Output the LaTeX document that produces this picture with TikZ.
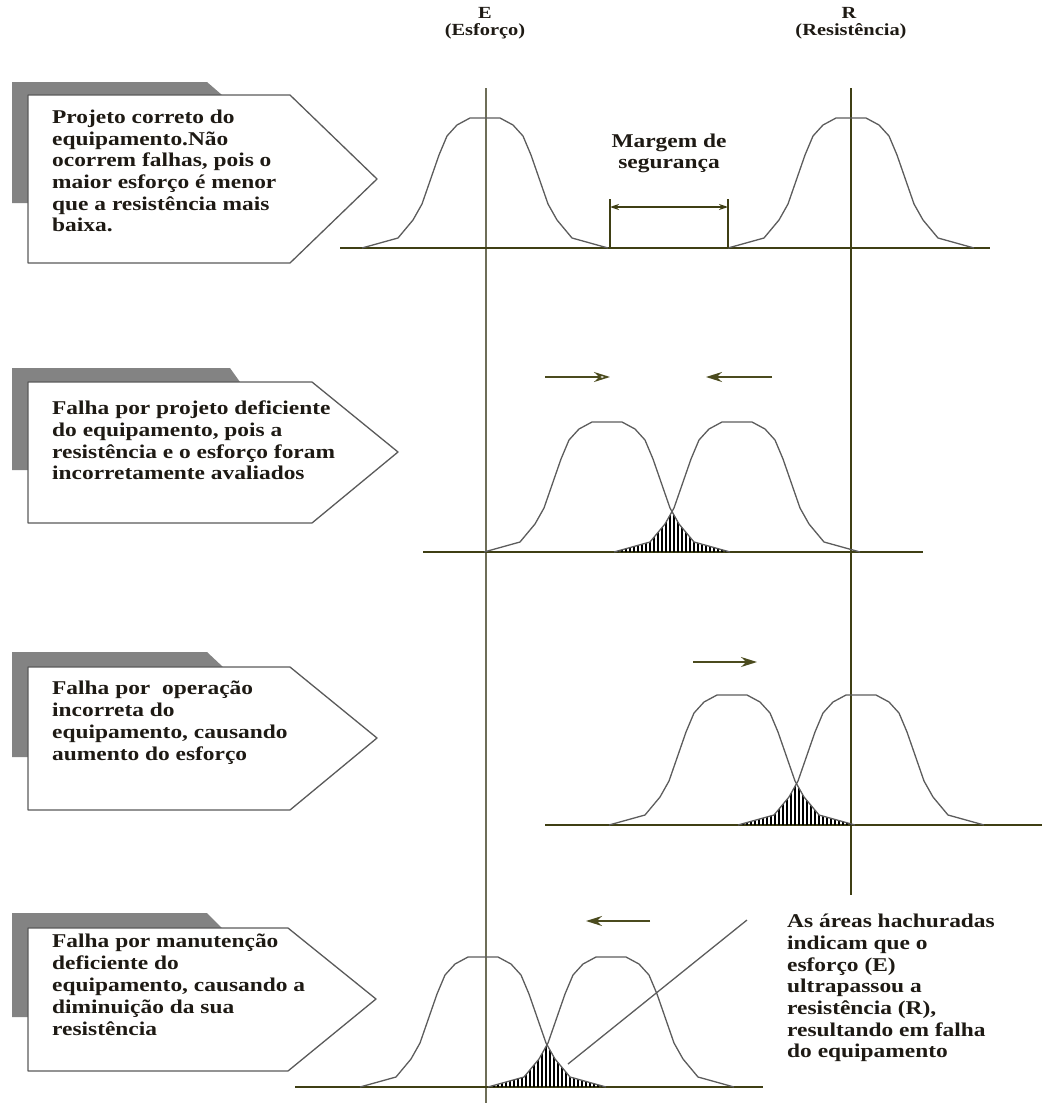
\documentclass[tikz,border=0pt]{standalone}
\usepackage{fontspec}
\newfontfamily\lblfont{Liberation Serif}[FakeStretch=1.2]
\usetikzlibrary{arrows.meta}

\definecolor{axisc}{HTML}{3F3F14}
\definecolor{eline}{HTML}{6E6E58}
\definecolor{curvec}{HTML}{5C5C5C}
\definecolor{shadec}{HTML}{838383}
\definecolor{boxc}{HTML}{5A5A5A}
\definecolor{arrowc}{HTML}{4B4B1E}
\definecolor{txtc}{HTML}{1E1A14}

\tikzset{
  % polyline of one distribution curve, centred on (0,0) = foot of the mode on the baseline
  bellpath/.style={insert path={(-123,0) -- (-87,-10) -- (-72,-28) -- (-63,-44) -- (-46,-93)
     -- (-38,-112) -- (-28,-123) -- (-15,-130) -- (15,-130) -- (28,-123) -- (38,-112)
     -- (46,-93) -- (63,-44) -- (72,-28) -- (87,-10) -- (123,0)}},
  curve/.style={draw=curvec, line width=1.3pt, line join=round},
  baseline/.style={draw=axisc, line width=1.4pt},
  refline/.style={line width=1.3pt},
  hatch/.style={draw=black, line width=1.2pt},
  shadow/.style={fill=shadec},
  pentabox/.style={fill=white, draw=boxc, line width=1.3pt, line join=round},
  boxtext/.style={anchor=north west, inner sep=0pt, align=left, text=txtc,
     font=\lblfont\bfseries\fontsize{19.5}{21.6}\selectfont},
  headtext/.style={inner sep=0pt, align=center, text=txtc,
     font=\lblfont\bfseries\fontsize{17}{20}\selectfont},
  move/.style={draw=arrowc, line width=1.6pt, -{Stealth[length=16pt,width=10pt]}},
  moveopen/.style={draw=arrowc, line width=1.6pt, -{Stealth[open,length=16pt,width=10pt]}},
  dim/.style={draw=axisc, line width=1.3pt},
}

\begin{document}
\begin{tikzpicture}[x=1pt,y=-1pt]
\useasboundingbox (0,0) rectangle (1042,1103);

% ---------- column headings and reference lines ----------
\node[headtext] (hE) at (485,13) {E};
\node[headtext] (hEs) at (485,31) {(Esforço)};
\node[headtext] (hR) at (849,13) {R};
\node[headtext] (hRs) at (851,31) {(Resistência)};

\coordinate (Etop) at (486,88);  \coordinate (Ebot) at (486,1103);
\coordinate (Rtop) at (851,88);  \coordinate (Rbot) at (851,895);
\draw[refline, draw=eline] (Etop) -- (Ebot);
\draw[refline, draw=axisc] (Rtop) -- (Rbot);

% ---------- row 1: correct design ----------
\fill[shadow] (12,82) -- (207,82) -- (222,95) -- (222,203) -- (12,203) -- cycle;
\draw[pentabox] (28,95) -- (290,95) -- (377,179) -- (290,263) -- (28,263) -- cycle;
\node[boxtext] (t1) at (52,110) {Projeto correto do\\equipamento.Não\\ocorrem falhas, pois o\\maior esforço é menor\\que a resistência mais\\baixa.};

\coordinate (b1l) at (340,248); \coordinate (b1r) at (990,248);
\draw[baseline] (b1l) -- (b1r);
\draw[curve, shift={(485,248)}, bellpath];
\draw[curve, shift={(851,248)}, bellpath];

\coordinate (mLb) at (610,248); \coordinate (mLt) at (610,199);
\coordinate (mRb) at (728,248); \coordinate (mRt) at (728,199);
\coordinate (mL) at (610,207);  \coordinate (mR) at (728,207);
\draw[dim] (mLb) -- (mLt);
\draw[dim] (mRb) -- (mRt);
\draw[dim, {Stealth[length=9pt,width=6pt]}-{Stealth[length=9pt,width=6pt]}] (mL) -- (mR);
\node[headtext, font=\lblfont\bfseries\fontsize{19.5}{21}\selectfont] (mg) at (669,153) {Margem de\\segurança};

% ---------- row 2: deficient design ----------
\fill[shadow] (12,368) -- (230,368) -- (240,382) -- (240,470) -- (12,470) -- cycle;
\draw[pentabox] (28,382) -- (312,382) -- (398,452) -- (312,523) -- (28,523) -- cycle;
\node[boxtext] (t2) at (52,401) {Falha por projeto deficiente\\do equipamento, pois a\\resistência e o esforço foram\\incorretamente avaliados};

\coordinate (a2s) at (545,377); \coordinate (a2e) at (610,377);
\coordinate (a3s) at (772,377); \coordinate (a3e) at (706,377);
\draw[moveopen] (a2s) -- (a2e);
\draw[move] (a3s) -- (a3e);

\coordinate (b2l) at (423,552); \coordinate (b2r) at (923,552);
\draw[baseline] (b2l) -- (b2r);
\begin{scope}
  \clip[shift={(607,552)}, bellpath] -- cycle;
  \clip[shift={(737,552)}, bellpath] -- cycle;
  \foreach \x in {598,602,...,746} \draw[hatch] (\x,553) -- (\x,500);
\end{scope}
\draw[curve, shift={(607,552)}, bellpath];
\draw[curve, shift={(737,552)}, bellpath];

% ---------- row 3: incorrect operation ----------
\fill[shadow] (12,652) -- (207,652) -- (223,667) -- (223,757) -- (12,757) -- cycle;
\draw[pentabox] (28,667) -- (290,667) -- (377,738) -- (290,810) -- (28,810) -- cycle;
\node[boxtext, font=\lblfont\bfseries\fontsize{19.5}{22}\selectfont] (t3) at (52,681) {Falha por~ operação\\incorreta do\\equipamento, causando\\aumento do esforço};

\coordinate (a4s) at (693,662); \coordinate (a4e) at (757,662);
\draw[move] (a4s) -- (a4e);

\coordinate (b3l) at (545,825); \coordinate (b3r) at (1042,825);
\draw[baseline] (b3l) -- (b3r);
\begin{scope}
  \clip[shift={(732,825)}, bellpath] -- cycle;
  \clip[shift={(861,825)}, bellpath] -- cycle;
  \foreach \x in {723,727,...,870} \draw[hatch] (\x,826) -- (\x,770);
\end{scope}
\draw[curve, shift={(732,825)}, bellpath];
\draw[curve, shift={(861,825)}, bellpath];

% ---------- row 4: deficient maintenance ----------
\fill[shadow] (12,913) -- (207,913) -- (222,928) -- (222,1017) -- (12,1017) -- cycle;
\draw[pentabox] (28,928) -- (288,928) -- (376,999) -- (288,1071) -- (28,1071) -- cycle;
\node[boxtext, font=\lblfont\bfseries\fontsize{19.5}{22}\selectfont] (t4) at (52,934) {Falha por manutenção\\deficiente do\\equipamento, causando a\\diminuição da sua\\resistência};

\coordinate (a5s) at (650,921); \coordinate (a5e) at (586,921);
\draw[move] (a5s) -- (a5e);

\coordinate (b4l) at (295,1087); \coordinate (b4r) at (763,1087);
\draw[baseline] (b4l) -- (b4r);
\begin{scope}
  \clip[shift={(483,1087)}, bellpath] -- cycle;
  \clip[shift={(611,1087)}, bellpath] -- cycle;
  \foreach \x in {474,478,...,620} \draw[hatch] (\x,1088) -- (\x,1030);
\end{scope}
\draw[curve, shift={(483,1087)}, bellpath];
\draw[curve, shift={(611,1087)}, bellpath];

% ---------- note on the hatched areas ----------
\node[boxtext, font=\lblfont\bfseries\fontsize{19.5}{21.7}\selectfont] (note) at (787,914) {As áreas hachuradas\\indicam que o\\esforço (E)\\ultrapassou a\\resistência (R),\\resultando em falha\\do equipamento};
\coordinate (ld1) at (568,1064); \coordinate (ld2) at (747,920);
\draw[curve] (ld1) -- (ld2);

\end{tikzpicture}
\end{document}
